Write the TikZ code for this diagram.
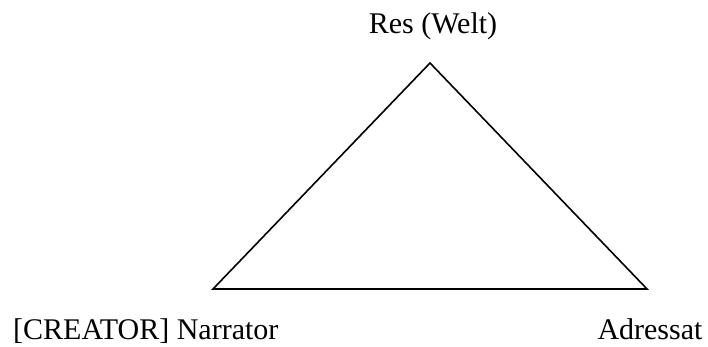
\documentclass[tikz,border=0pt]{standalone}
\usepackage{fontspec}
\setmainfont{Liberation Serif}
\begin{document}
\begin{tikzpicture}[x=1pt,y=-1pt,
  lbl/.style={font=\fontsize{30}{34}\selectfont, inner sep=0pt},
  edge/.style={draw=black, line width=1.6pt}]
\useasboundingbox[fill=white] (0,0) rectangle (708,347);
\coordinate (top) at (430,63);
\coordinate (bl) at (213,289);
\coordinate (br) at (647,289);
\draw[edge, line join=miter] (top) -- (bl) -- (br) -- cycle;
\node[lbl, anchor=base] (res) at (433,34) {Res (Welt)};
\node[lbl, anchor=base west] (nar) at (13,339) {[CREATOR] Narrator};
\node[lbl, anchor=base] (adr) at (650,339) {Adressat};
\end{tikzpicture}
\end{document}
